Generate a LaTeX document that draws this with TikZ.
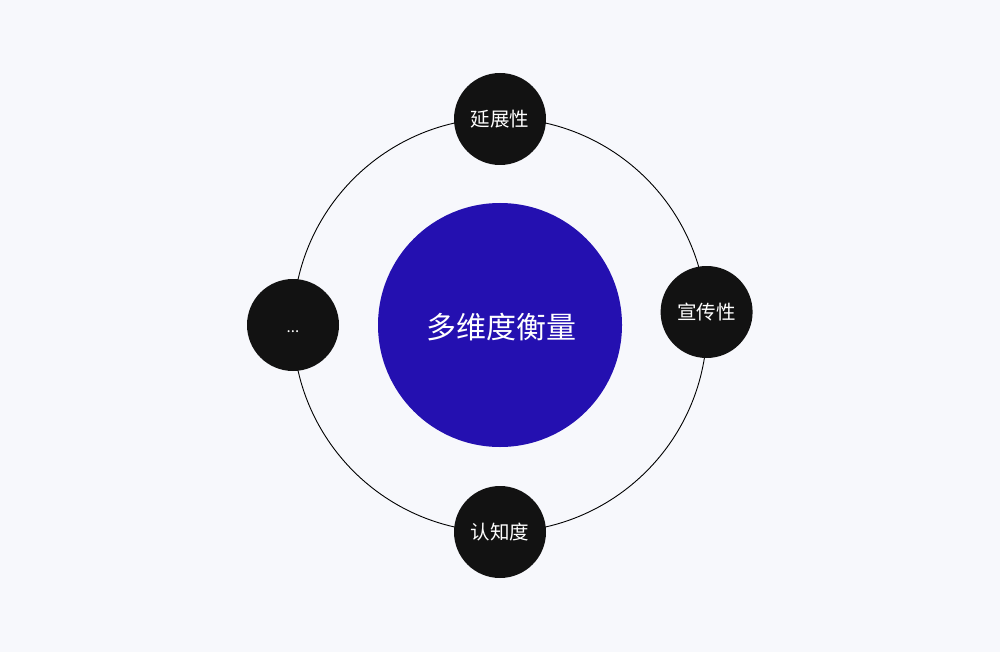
\documentclass[tikz,border=0pt]{standalone}
\usepackage{fontspec}
\setmainfont{Noto Sans CJK SC}
\definecolor{bgc}{HTML}{F7F8FC}
\definecolor{bluec}{HTML}{2410B0}
\definecolor{darkc}{HTML}{121212}
\begin{document}
\begin{tikzpicture}[x=1pt,y=-1pt,
  hub/.style={circle,fill=bluec,minimum size=244pt,inner sep=0pt,text=white,font=\fontsize{30}{30}\selectfont},
  sat/.style={circle,fill=darkc,minimum size=92pt,inner sep=0pt,text=white,font=\fontsize{19.5}{19.5}\selectfont},
  dots/.style={text=white,font=\fontsize{15}{15}\selectfont,inner sep=0pt},
  orbit/.style={draw=black,line width=0.9pt}]
\fill[bgc] (0,0) rectangle (1000,652);
\useasboundingbox (0,0) rectangle (1000,652);
\coordinate (c) at (500,325);
\draw[orbit] (c) circle[radius=207];
\node[hub] (hub) at (500,325) {};
\node[text=white,font=\fontsize{30}{30}\selectfont] (hubtext) at (501,327) {多维度衡量};
\node[sat] (top) at (500,119) {延展性};
\node[sat] (right) at (706.6,312) {宣传性};
\node[sat] (bottom) at (500,532) {认知度};
\node[sat] (left) at (293,325) {};
\node[dots] (lefttext) at (293,332) {...};
\end{tikzpicture}
\end{document}
